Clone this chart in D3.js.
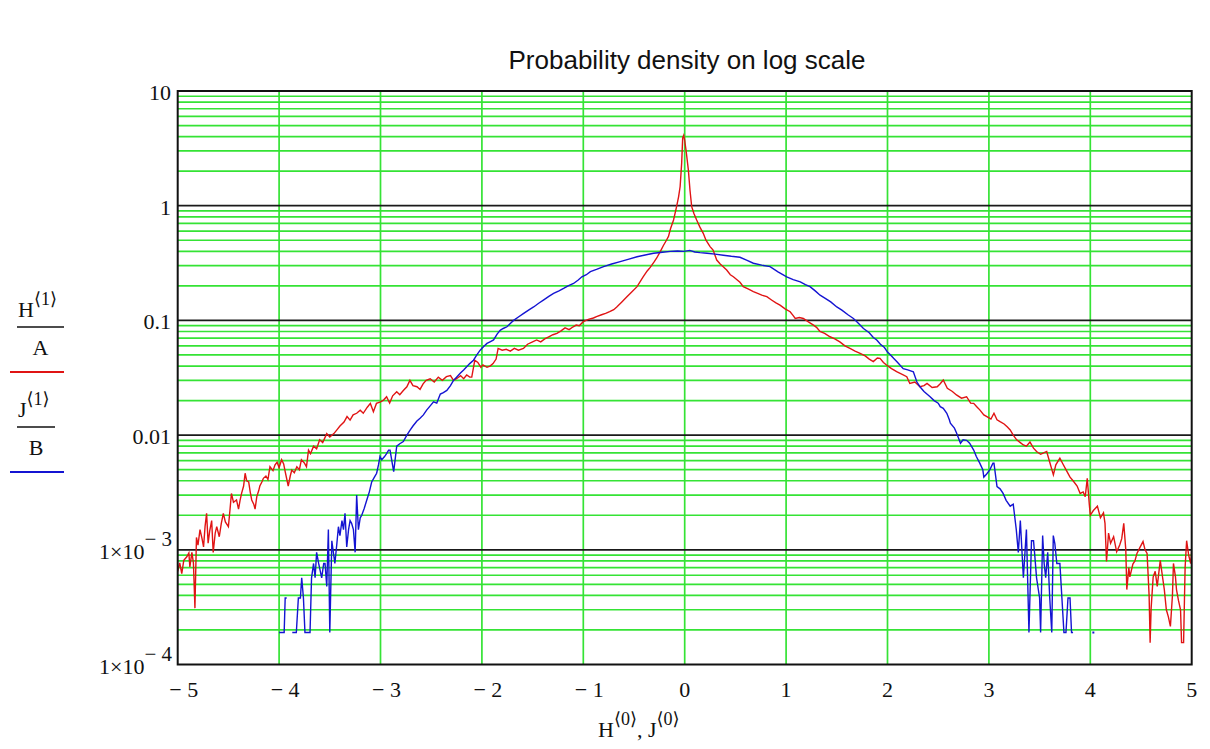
<!DOCTYPE html>
<html>
<head>
<meta charset="utf-8">
<script src="https://cdn.jsdelivr.net/npm/d3@7"></script>
<style>
  body { margin: 0; background: #fff; }
  svg { display: block; }
</style>
</head>
<body>
<svg id="chart" width="1210" height="749"></svg>
<script>
// ---- chart text and ticks ----
const chartTitle = "Probability density on log scale";
const xTicks = [-5, -4, -3, -2, -1, 0, 1, 2, 3, 4, 5];
const yDecades = [1e-4, 1e-3, 1e-2, 0.1, 1, 10];
// "^" separates mantissa part from superscript exponent
const yTickText = ["1×10^− 4", "1×10^− 3", "0.01", "0.1", "1", "10"];

// ---- histogram densities: H<1>/A (red) ----
const redSeries = [
  [-5.00,6.5e-4],[-4.98,7.7e-4],[-4.96,6.2e-4],[-4.94,8.1e-4],[-4.91,8.7e-4],[-4.89,9.4e-4],
  [-4.88,7.1e-4],[-4.86,9.5e-4],[-4.845,7.7e-4],[-4.83,3.1e-4],[-4.815,1.28e-3],[-4.80,1.1e-3],
  [-4.78,1.5e-3],[-4.76,1.25e-3],[-4.745,1.06e-3],[-4.73,1.6e-3],[-4.715,2.08e-3],[-4.70,1.14e-3],
  [-4.685,1.45e-3],[-4.665,1.8e-3],[-4.65,9.5e-4],[-4.63,1.4e-3],[-4.615,1.59e-3],[-4.59,1.3e-3],
  [-4.57,1.7e-3],[-4.55,2.08e-3],[-4.53,1.75e-3],[-4.50,1.59e-3],[-4.485,2.2e-3],[-4.47,3.1e-3],
  [-4.45,2.6e-3],[-4.42,2.72e-3],[-4.40,2.26e-3],[-4.385,2.7e-3],[-4.37,3.1e-3],[-4.35,3.6e-3],
  [-4.335,4.65e-3],[-4.32,4.0e-3],[-4.30,3.9e-3],[-4.285,3.2e-3],[-4.27,2.72e-3],[-4.25,2.5e-3],
  [-4.237,2.26e-3],[-4.22,2.91e-3],[-4.20,3.3e-3],[-4.19,3.6e-3],[-4.17,3.9e-3],[-4.155,4.2e-3],
  [-4.13,4.4e-3],[-4.11,4.1e-3],[-4.09,5.3e-3],[-4.06,4.9e-3],[-4.04,5.5e-3],[-4.02,5.8e-3],
  [-4.00,5.2e-3],[-3.975,6.1e-3],[-3.955,5.6e-3],[-3.94,4.8e-3],[-3.91,3.6e-3],[-3.89,4.4e-3],
  [-3.875,4.95e-3],[-3.85,4.7e-3],[-3.825,5.3e-3],[-3.80,5.0e-3],[-3.78,6.1e-3],[-3.75,5.7e-3],
  [-3.73,5.3e-3],[-3.71,7.4e-3],[-3.69,6.9e-3],[-3.66,8.0e-3],[-3.63,7.6e-3],[-3.60,9.1e-3],
  [-3.57,8.6e-3],[-3.53,1.03e-2],[-3.50,9.6e-3],[-3.46,1.03e-2],[-3.43,1.11e-2],[-3.40,1.2e-2],
  [-3.36,1.3e-2],[-3.33,1.45e-2],[-3.30,1.35e-2],[-3.27,1.5e-2],[-3.235,1.55e-2],[-3.20,1.65e-2],
  [-3.17,1.55e-2],[-3.13,1.75e-2],[-3.10,1.89e-2],[-3.07,1.6e-2],[-3.04,1.89e-2],[-3.00,1.95e-2],
  [-2.97,2.02e-2],[-2.94,2.16e-2],[-2.91,1.9e-2],[-2.88,2.2e-2],[-2.84,2.39e-2],[-2.81,2.25e-2],
  [-2.775,2.45e-2],[-2.74,2.64e-2],[-2.71,3.0e-2],[-2.68,2.7e-2],[-2.64,2.64e-2],[-2.61,2.5e-2],
  [-2.58,2.8e-2],[-2.55,3.0e-2],[-2.51,3.1e-2],[-2.47,2.9e-2],[-2.43,3.2e-2],[-2.39,3.0e-2],
  [-2.35,3.23e-2],[-2.31,3.3e-2],[-2.28,3.0e-2],[-2.25,3.1e-2],[-2.21,3.3e-2],[-2.18,3.1e-2],
  [-2.15,3.34e-2],[-2.12,3.2e-2],[-2.10,3.2e-2],[-2.07,4.5e-2],[-2.04,4.3e-2],[-2.01,3.9e-2],
  [-1.99,4.1e-2],[-1.95,3.9e-2],[-1.92,4.0e-2],[-1.89,4.2e-2],[-1.86,4.6e-2],[-1.84,5.7e-2],
  [-1.80,5.5e-2],[-1.76,5.6e-2],[-1.72,5.4e-2],[-1.68,5.7e-2],[-1.64,5.5e-2],[-1.59,5.7e-2],
  [-1.55,6.2e-2],[-1.50,6.5e-2],[-1.46,6.75e-2],[-1.42,6.5e-2],[-1.38,6.9e-2],[-1.34,7.2e-2],
  [-1.30,7.5e-2],[-1.26,7.7e-2],[-1.22,8.1e-2],[-1.18,8.6e-2],[-1.14,8.3e-2],[-1.10,8.8e-2],
  [-1.07,9.1e-2],[-1.04,9.0e-2],[-1.00,9.75e-2],[-0.95,1.02e-1],[-0.90,1.05e-1],[-0.87,1.08e-1],
  [-0.82,1.12e-1],[-0.78,1.15e-1],[-0.74,1.19e-1],[-0.70,1.24e-1],[-0.67,1.31e-1],[-0.62,1.45e-1],
  [-0.57,1.61e-1],[-0.52,1.78e-1],[-0.47,1.97e-1],[-0.41,2.4e-1],[-0.37,2.7e-1],[-0.34,2.9e-1],
  [-0.30,3.25e-1],[-0.276,3.5e-1],[-0.24,4.0e-1],[-0.21,4.5e-1],[-0.18,5.0e-1],[-0.16,5.4e-1],
  [-0.14,6.3e-1],[-0.11,7.5e-1],[-0.08,9.8e-1],[-0.06,1.2],[-0.045,1.47],[-0.03,2.34],
  [-0.02,3.9],[-0.01,4.1],[0.00,3.7],[0.013,3.06],[0.036,2.05],[0.052,1.37],
  [0.069,0.98],[0.09,0.86],[0.118,0.75],[0.15,0.65],[0.183,0.574],[0.21,0.50],
  [0.25,0.44],[0.28,0.41],[0.316,0.336],[0.35,0.31],[0.38,0.294],[0.414,0.275],
  [0.45,0.25],[0.48,0.24],[0.545,0.215],[0.578,0.197],[0.63,0.187],[0.677,0.178],
  [0.72,0.172],[0.76,0.166],[0.81,0.161],[0.86,0.150],[0.90,0.142],[0.94,0.136],
  [0.99,0.126],[1.04,0.119],[1.07,0.110],[1.09,0.104],[1.13,0.106],[1.17,0.104],
  [1.22,0.097],[1.27,0.091],[1.30,0.087],[1.334,0.080],[1.38,0.077],[1.433,0.072],
  [1.48,0.069],[1.53,0.065],[1.58,0.060],[1.63,0.057],[1.68,0.054],[1.73,0.0516],
  [1.78,0.049],[1.82,0.046],[1.86,0.0437],[1.90,0.047],[1.926,0.0467],[1.96,0.043],
  [1.99,0.0408],[2.04,0.038],[2.09,0.0357],[2.14,0.034],[2.19,0.0323],[2.22,0.0282],
  [2.27,0.029],[2.32,0.0264],[2.36,0.027],[2.39,0.0282],[2.44,0.026],[2.49,0.0264],
  [2.52,0.028],[2.55,0.0302],[2.59,0.0256],[2.64,0.024],[2.68,0.0224],[2.73,0.021],
  [2.78,0.0216],[2.82,0.019],[2.85,0.0189],[2.88,0.0177],[2.91,0.0166],[2.95,0.0150],
  [2.98,0.0145],[3.02,0.0138],[3.05,0.0155],[3.08,0.0136],[3.11,0.0131],[3.15,0.0125],
  [3.18,0.0118],[3.21,0.0111],[3.24,0.0100],[3.274,0.0091],[3.31,0.0086],[3.34,0.0082],
  [3.37,0.0080],[3.405,0.0087],[3.44,0.0077],[3.47,0.0072],[3.51,0.0068],[3.54,0.0070],
  [3.57,0.0072],[3.60,0.0058],[3.636,0.0045],[3.66,0.0055],[3.70,0.0063],[3.73,0.0056],
  [3.76,0.0050],[3.80,0.0043],[3.83,0.0040],[3.87,0.0036],[3.90,0.0031],[3.93,0.0032],
  [3.95,0.0029],[3.97,0.0042],[3.99,0.0025],[4.00,0.0020],[4.03,0.0022],[4.07,0.0024],
  [4.10,0.0019],[4.13,0.0021],[4.145,0.0017],[4.16,7.9e-4],[4.18,1.4e-3],[4.20,1.14e-3],
  [4.23,1.3e-3],[4.26,9.6e-4],[4.29,1.1e-3],[4.31,1.25e-3],[4.33,1.7e-3],[4.35,1.0e-3],
  [4.36,4.5e-4],[4.38,7.0e-4],[4.39,5.8e-4],[4.42,7.5e-4],[4.44,8.0e-4],[4.46,9.3e-4],
  [4.49,1.05e-3],[4.52,1.18e-3],[4.54,1.0e-3],[4.56,9.3e-4],[4.58,4.0e-4],[4.59,1.55e-4],
  [4.60,3.1e-4],[4.62,5.8e-4],[4.64,6.5e-4],[4.66,4.8e-4],[4.69,8.1e-4],[4.71,6.0e-4],
  [4.73,4.5e-4],[4.75,3.0e-4],[4.77,2.6e-4],[4.79,2.15e-4],[4.81,4.0e-4],[4.82,7.6e-4],
  [4.84,5.8e-4],[4.85,4.5e-4],[4.87,3.6e-4],[4.89,3.0e-4],[4.90,1.55e-4],[4.92,1.55e-4],
  [4.935,7.0e-4],[4.95,1.2e-3],[4.97,9.0e-4],[4.99,7.6e-4],[5.00,1.0e-3]
];

// ---- histogram densities: J<1>/B (blue); null = empty bin ----
const blueSeries = [
  [-4.00,1.9e-4],[-3.97,1.9e-4],[-3.95,1.9e-4],[-3.94,3.8e-4],[-3.925,3.8e-4],[-3.90,null],
  [-3.87,1.9e-4],[-3.845,1.9e-4],[-3.83,1.9e-4],[-3.81,3.8e-4],[-3.79,3.8e-4],[-3.777,5.7e-4],
  [-3.76,3.8e-4],[-3.745,1.9e-4],[-3.73,1.9e-4],[-3.71,1.9e-4],[-3.695,1.9e-4],[-3.68,5.7e-4],
  [-3.66,7.6e-4],[-3.645,5.7e-4],[-3.63,9.5e-4],[-3.61,7.6e-4],[-3.58,5.7e-4],[-3.56,7.6e-4],
  [-3.547,7.6e-4],[-3.53,4.8e-4],[-3.514,1.5e-3],[-3.50,1.9e-4],[-3.48,1.2e-3],[-3.465,9.5e-4],
  [-3.45,7.6e-4],[-3.43,1.14e-3],[-3.415,1.59e-3],[-3.40,1.33e-3],[-3.38,1.8e-3],[-3.365,1.5e-3],
  [-3.35,2.08e-3],[-3.333,1.06e-3],[-3.315,1.5e-3],[-3.30,1.8e-3],[-3.285,1.7e-3],[-3.267,1.5e-3],
  [-3.25,9.5e-4],[-3.235,3.0e-3],[-3.218,1.5e-3],[-3.20,1.9e-3],[-3.185,2.0e-3],[-3.16,2.3e-3],
  [-3.136,2.7e-3],[-3.11,3.2e-3],[-3.087,3.9e-3],[-3.06,4.3e-3],[-3.038,4.65e-3],[-3.02,5.5e-3],
  [-3.005,6.5e-3],[-2.988,6.1e-3],[-2.96,6.5e-3],[-2.94,6.9e-3],[-2.92,7.4e-3],[-2.906,7.4e-3],
  [-2.87,4.8e-3],[-2.84,8.0e-3],[-2.81,8.4e-3],[-2.775,8.8e-3],[-2.74,1.0e-2],[-2.71,1.1e-2],
  [-2.68,1.2e-2],[-2.643,1.32e-2],[-2.61,1.4e-2],[-2.577,1.5e-2],[-2.545,1.65e-2],[-2.51,1.8e-2],
  [-2.477,1.95e-2],[-2.445,1.9e-2],[-2.41,2.28e-2],[-2.38,2.35e-2],[-2.346,2.45e-2],[-2.31,2.7e-2],
  [-2.28,3.0e-2],[-2.25,3.2e-2],[-2.214,3.46e-2],[-2.18,3.7e-2],[-2.15,3.95e-2],[-2.12,4.2e-2],
  [-2.083,4.5e-2],[-2.05,5.0e-2],[-2.017,5.5e-2],[-1.985,5.9e-2],[-1.95,6.3e-2],[-1.92,6.5e-2],
  [-1.885,6.75e-2],[-1.85,7.6e-2],[-1.82,8.2e-2],[-1.79,8.5e-2],[-1.753,8.8e-2],[-1.72,9.4e-2],
  [-1.687,1.0e-1],[-1.64,1.07e-1],[-1.588,1.15e-1],[-1.54,1.23e-1],[-1.49,1.31e-1],[-1.44,1.41e-1],
  [-1.39,1.51e-1],[-1.34,1.62e-1],[-1.293,1.72e-1],[-1.24,1.81e-1],[-1.194,1.9e-1],[-1.15,2.0e-1],
  [-1.096,2.1e-1],[-1.05,2.25e-1],[-1.014,2.4e-1],[-0.97,2.5e-1],[-0.93,2.66e-1],[-0.87,2.78e-1],
  [-0.80,2.94e-1],[-0.72,3.1e-1],[-0.636,3.25e-1],[-0.55,3.42e-1],[-0.47,3.59e-1],[-0.39,3.72e-1],
  [-0.307,3.85e-1],[-0.22,3.93e-1],[-0.143,4.0e-1],[-0.07,4.03e-1],[-0.01,4.0e-1],[0.05,4.08e-1],
  [0.10,3.95e-1],[0.151,3.9e-1],[0.22,3.85e-1],[0.30,3.78e-1],[0.381,3.7e-1],[0.46,3.62e-1],
  [0.545,3.55e-1],[0.61,3.35e-1],[0.677,3.15e-1],[0.76,3.03e-1],[0.842,2.94e-1],[0.92,2.65e-1],
  [1.006,2.4e-1],[1.07,2.27e-1],[1.14,2.17e-1],[1.19,2.05e-1],[1.236,1.97e-1],[1.29,1.8e-1],
  [1.335,1.66e-1],[1.39,1.55e-1],[1.44,1.45e-1],[1.50,1.31e-1],[1.55,1.23e-1],[1.61,1.12e-1],
  [1.664,1.04e-1],[1.71,9.5e-2],[1.763,8.5e-2],[1.82,7.8e-2],[1.86,7.1e-2],[1.894,6.75e-2],
  [1.93,6.2e-2],[1.97,5.8e-2],[2.00,5.3e-2],[2.03,5.0e-2],[2.06,4.67e-2],[2.10,4.3e-2],
  [2.155,3.8e-2],[2.20,3.7e-2],[2.255,3.57e-2],[2.29,2.9e-2],[2.32,2.64e-2],[2.36,2.4e-2],
  [2.42,2.16e-2],[2.46,2.0e-2],[2.50,1.9e-2],[2.52,1.77e-2],[2.55,1.71e-2],[2.585,1.55e-2],
  [2.61,1.36e-2],[2.62,1.27e-2],[2.66,1.15e-2],[2.68,1.05e-2],[2.72,8.5e-3],[2.745,9.1e-3],
  [2.78,9.0e-3],[2.81,8.5e-3],[2.85,7.4e-3],[2.876,6.5e-3],[2.91,5.7e-3],[2.94,5.0e-3],
  [2.95,4.3e-3],[2.98,4.6e-3],[3.01,5.0e-3],[3.04,5.7e-3],[3.05,5.7e-3],[3.08,3.55e-3],
  [3.11,3.4e-3],[3.14,3.1e-3],[3.17,2.7e-3],[3.21,2.4e-3],[3.24,2.5e-3],[3.27,1.5e-3],
  [3.29,9.5e-4],[3.31,1.8e-3],[3.34,5.7e-4],[3.37,1.5e-3],[3.395,1.9e-4],[3.42,1.2e-3],
  [3.44,1.2e-3],[3.45,9.5e-4],[3.47,5.7e-4],[3.50,3.8e-4],[3.51,1.9e-4],[3.53,1.33e-3],
  [3.545,7.6e-4],[3.56,5.7e-4],[3.58,9.5e-4],[3.60,3.8e-4],[3.62,1.9e-4],[3.635,1.33e-3],
  [3.65,1.14e-3],[3.67,7.6e-4],[3.70,7.6e-4],[3.72,3.8e-4],[3.74,1.9e-4],[3.76,1.9e-4],
  [3.78,3.8e-4],[3.80,3.8e-4],[3.815,1.9e-4],[3.83,1.9e-4],[3.85,null],[4.01,null],
  [4.03,1.9e-4],[4.05,null]
];

// ---- layout ----
const svg = d3.select("#chart");
const plot = { left: 177.7, right: 1191.7, top: 91, bottom: 664.5 };
const GREEN = "#35e335";
const RED = "#e01414";
const BLUE = "#1414d2";
const SERIF = "'Liberation Serif','Times New Roman',serif";
const MATH = "'Liberation Serif','DejaVu Serif',serif";

const x = d3.scaleLinear().domain([-5, 5]).range([plot.left, plot.right]);
const y = d3.scaleLog().domain([1e-4, 10]).range([plot.bottom, plot.top]);

// title
svg.append("text")
  .attr("x", 687).attr("y", 69)
  .attr("text-anchor", "middle")
  .attr("font-family", "'Liberation Sans',Arial,sans-serif")
  .attr("font-size", 26)
  .attr("fill", "#111")
  .text(chartTitle);

// ---- grid ----
const grid = svg.append("g");
const minorVals = [];
for (let d = 0; d < yDecades.length - 1; d++) {
  for (let m = 2; m <= 9; m++) minorVals.push(yDecades[d] * m);
}
grid.selectAll("line.minor").data(minorVals).join("line")
  .attr("x1", plot.left).attr("x2", plot.right)
  .attr("y1", d => y(d)).attr("y2", d => y(d))
  .attr("stroke", GREEN).attr("stroke-width", 1.7);

grid.selectAll("line.vert").data(xTicks.slice(1, -1)).join("line")
  .attr("x1", d => x(d)).attr("x2", d => x(d))
  .attr("y1", plot.top).attr("y2", plot.bottom)
  .attr("stroke", GREEN).attr("stroke-width", 1.7);

grid.selectAll("line.major").data(yDecades.slice(1, -1)).join("line")
  .attr("x1", plot.left).attr("x2", plot.right)
  .attr("y1", d => y(d)).attr("y2", d => y(d))
  .attr("stroke", "#1a1a1a").attr("stroke-width", 1.7);

// ---- data lines ----
svg.append("clipPath").attr("id", "plotClip")
  .append("rect")
  .attr("x", plot.left).attr("y", plot.top)
  .attr("width", plot.right - plot.left).attr("height", plot.bottom - plot.top);

const line = d3.line()
  .defined(d => d[1] != null)
  .x(d => x(d[0]))
  .y(d => y(d[1]));

const dataG = svg.append("g").attr("clip-path", "url(#plotClip)");

function drawSeries(series, color) {
  dataG.append("path")
    .datum(series)
    .attr("d", line)
    .attr("fill", "none")
    .attr("stroke", color)
    .attr("stroke-width", 1.4)
    .attr("stroke-linejoin", "miter");
  // isolated non-empty bins show up as single dots
  const lone = series.filter((d, i) =>
    d[1] != null &&
    (i === 0 || series[i - 1][1] == null) &&
    (i === series.length - 1 || series[i + 1][1] == null));
  dataG.selectAll(null).data(lone).join("rect")
    .attr("x", d => x(d[0]) - 1).attr("y", d => y(d[1]) - 1)
    .attr("width", 2).attr("height", 2)
    .attr("fill", color);
}
drawSeries(redSeries, RED);
drawSeries(blueSeries, BLUE);

// plot frame
svg.append("rect")
  .attr("x", plot.left).attr("y", plot.top)
  .attr("width", plot.right - plot.left).attr("height", plot.bottom - plot.top)
  .attr("fill", "none").attr("stroke", "#111").attr("stroke-width", 2);

// ---- y tick labels ----
const yLab = svg.append("g")
  .attr("font-family", SERIF).attr("font-size", 22).attr("fill", "#111");
yDecades.forEach((v, i) => {
  const parts = yTickText[i].split("^");
  const yy = y(v);
  if (parts.length === 1) {
    yLab.append("text")
      .attr("x", 171).attr("y", yy + 9)
      .attr("text-anchor", "end")
      .text(parts[0]);
  } else {
    const t = yLab.append("text")
      .attr("x", 172).attr("y", yy + 9)
      .attr("text-anchor", "end");
    t.append("tspan").text(parts[0]);
    t.append("tspan").attr("dy", -13).attr("font-size", 21).text(parts[1]);
  }
});

// ---- x tick labels ----
svg.append("g")
  .attr("font-family", SERIF).attr("font-size", 22).attr("fill", "#111")
  .selectAll("text").data(xTicks).join("text")
  .attr("x", d => x(d) + (d < 0 ? 6 : 0))
  .attr("y", 697)
  .attr("text-anchor", "middle")
  .text(d => d < 0 ? "− " + Math.abs(d) : String(d));

// ---- x axis label: H<0>, J<0> ----
const xl = svg.append("text")
  .attr("x", 598).attr("y", 737)
  .attr("font-family", MATH).attr("font-size", 22).attr("fill", "#111");
xl.append("tspan").text("H");
xl.append("tspan").attr("dy", -12).attr("font-size", 18).text("⟨0⟩");
xl.append("tspan").attr("dy", 12).text(", J");
xl.append("tspan").attr("dy", -12).attr("font-size", 18).text("⟨0⟩");

// ---- y axis legend (stacked fractions with series swatches) ----
const leg = svg.append("g").attr("font-family", MATH).attr("fill", "#111");
function fraction(num, sup, den, top, color, barRight) {
  const t = leg.append("text").attr("x", 18).attr("y", top).attr("font-size", 22);
  t.append("tspan").text(num);
  t.append("tspan").attr("dy", -12).attr("font-size", 18).text(sup);
  leg.append("line")
    .attr("x1", 17).attr("x2", barRight)
    .attr("y1", top + 10).attr("y2", top + 10)
    .attr("stroke", "#111").attr("stroke-width", 1.3);
  leg.append("text")
    .attr("x", (17 + barRight) / 2).attr("y", top + 38)
    .attr("text-anchor", "middle").attr("font-size", 22)
    .text(den);
  leg.append("line")
    .attr("x1", 10).attr("x2", 64)
    .attr("y1", top + 55).attr("y2", top + 55)
    .attr("stroke", color).attr("stroke-width", 2);
}
fraction("H", "⟨1⟩", "A", 317, RED, 64);
fraction("J", "⟨1⟩", "B", 417, BLUE, 55);
</script>
</body>
</html>
